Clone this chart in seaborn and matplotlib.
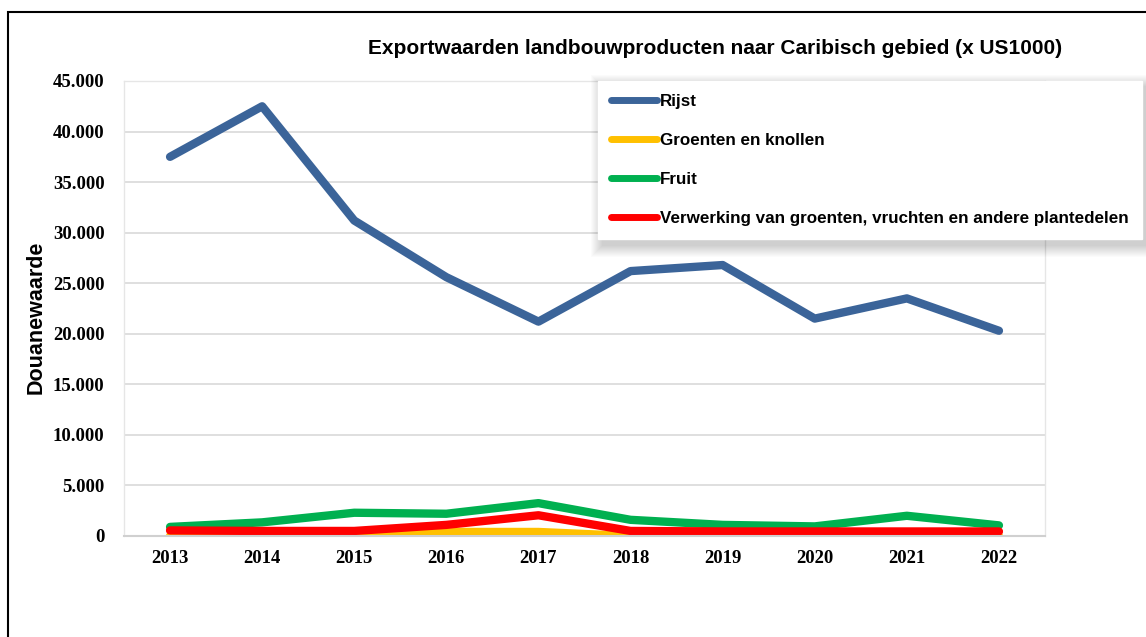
import pandas as pd
import numpy as np
import matplotlib
matplotlib.use('Agg')
import matplotlib.pyplot as plt
import seaborn as sns
from matplotlib.patches import Rectangle
from matplotlib.ticker import FuncFormatter, FixedLocator

# ==================== data ====================
jaren = ['2013', '2014', '2015', '2016', '2017', '2018', '2019', '2020', '2021', '2022']
rijst = [37500, 42500, 31200, 25600, 21200, 26200, 26800, 21500, 23500, 20300]
groenten = [0, 0, 0, 400, 400, 0, 0, 0, 0, 0]
fruit = [900, 1350, 2300, 2200, 3250, 1600, 1100, 950, 2000, 1050]
verwerking = [550, 500, 500, 1100, 2050, 500, 450, 450, 450, 450]

reeksen = ['Rijst', 'Groenten en knollen', 'Fruit',
           'Verwerking van groenten, vruchten en andere plantedelen']
kleuren = ['#3B6499', '#FFC000', '#00B050', '#FF0000']

df = pd.DataFrame({'jaar': jaren, reeksen[0]: rijst, reeksen[1]: groenten,
                   reeksen[2]: fruit, reeksen[3]: verwerking})
lang = df.melt(id_vars='jaar', var_name='reeks', value_name='waarde')

# ==================== plot ====================
sns.set_style('white')
plt.rcParams['font.family'] = ['Liberation Sans', 'DejaVu Sans']
plt.rcParams['text.color'] = 'black'
plt.rcParams['axes.labelcolor'] = 'black'
plt.rcParams['xtick.color'] = 'black'
plt.rcParams['ytick.color'] = 'black'

fig = plt.figure(figsize=(11.46, 6.37), dpi=100)
ax = fig.add_axes([124 / 1146, 1 - 536 / 637, 921 / 1146, 455 / 637])

sns.lineplot(data=lang, x='jaar', y='waarde', hue='reeks', hue_order=reeksen,
             palette=kleuren, linewidth=6, sort=False, ax=ax)
for ln in ax.lines:
    ln.set_solid_capstyle('round')
    ln.set_solid_joinstyle('round')

ax.set_xlim(-0.5, 9.5)
ax.set_ylim(0, 45000)
ax.set_yticks(np.arange(0, 45001, 5000))
ax.yaxis.set_major_formatter(FuncFormatter(lambda v, p: f'{v:,.0f}'.replace(',', '.')))
ax.grid(axis='y', color='#d9d9d9', linewidth=1.2)
ax.set_axisbelow(True)
for kant in ['left', 'top', 'right']:
    ax.spines[kant].set_color('#e6e6e6')
    ax.spines[kant].set_linewidth(1)
ax.spines['bottom'].set_color('#d0d0d0')
ax.spines['bottom'].set_linewidth(1.5)

ax.tick_params(axis='y', length=0, pad=14)
ax.tick_params(axis='x', which='major', length=0, pad=10)
ax.xaxis.set_minor_locator(FixedLocator(np.arange(-0.5, 10, 1)))
ax.tick_params(axis='x', which='minor', length=5, color='#d0d0d0', width=1.2, direction='out')
for lab in ax.get_xticklabels() + ax.get_yticklabels():
    lab.set_family('Liberation Serif')
    lab.set_fontweight('bold')
    lab.set_fontsize(13.5)
    lab.set_color('black')

ax.set_xlabel('')
ax.set_ylabel('Douanewaarde', fontsize=15.5, fontweight='bold')
ax.yaxis.set_label_coords((47 - 124) / 921, 0.48)

# legende buiten de assen
handles, labels = ax.get_legend_handles_labels()
ax.get_legend().remove()
for h in handles:
    h.set_linewidth(5)
    h.set_solid_capstyle('round')
leg = fig.legend(handles, labels, loc='upper left',
                 bbox_to_anchor=(598 / 1146, 1 - 81 / 637), borderaxespad=0,
                 frameon=True, fancybox=False, edgecolor='white', framealpha=1,
                 handlelength=2.7, handletextpad=0.15, labelspacing=1.4,
                 borderpad=0.78, prop={'weight': 'bold', 'size': 12.25})
leg.set_zorder(10)

fig.text(715 / 1146, 1 - 48 / 637,
         'Exportwaarden landbouwproducten naar Caribisch gebied (x US1000)',
         ha='center', va='center', fontsize=15, fontweight='bold')

# zachte schaduw onder de legende
fig.canvas.draw()
bb = leg.get_window_extent()
W, H = fig.bbox.width, fig.bbox.height
for i in range(12, 0, -1):
    fig.patches.append(Rectangle(((bb.x0 - i + 5) / W, (bb.y0 - i - 6) / H),
                                 (bb.width + 2 * i) / W, (bb.height + 2 * i) / H,
                                 transform=fig.transFigure, facecolor='black',
                                 edgecolor='none', alpha=0.016, zorder=4))

# rand om de grafiek
fig.patches.append(Rectangle((8 / 1146, -0.1), 1.2, 1.1 - 12 / 637,
                             transform=fig.transFigure, fill=False,
                             edgecolor='black', linewidth=1.5))

fig.savefig('out.png', dpi=100)
